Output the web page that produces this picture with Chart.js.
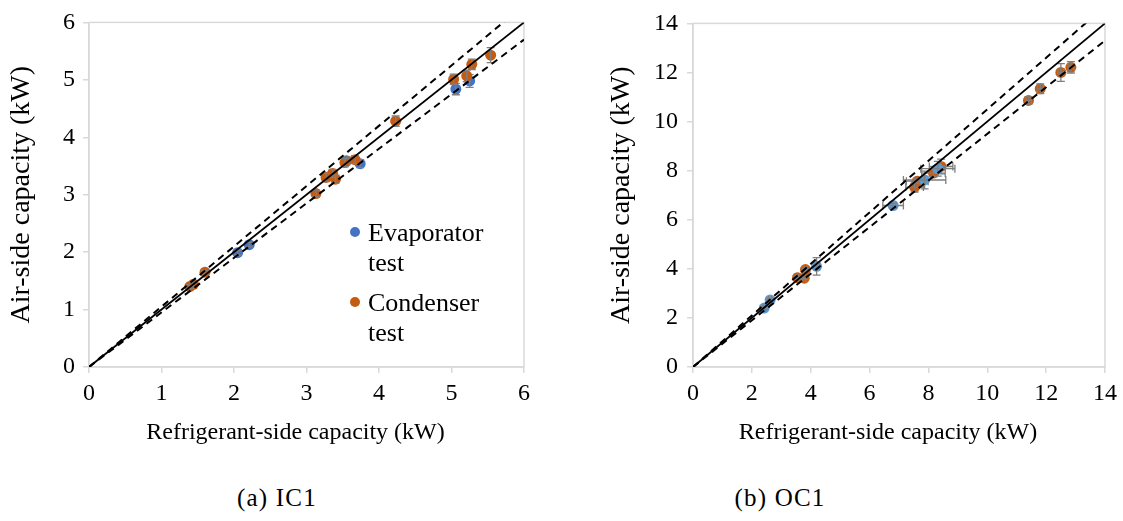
<!DOCTYPE html>
<html>
<head>
<meta charset="utf-8">
<script src="https://cdn.jsdelivr.net/npm/chart.js@4.4.0/dist/chart.umd.min.js"></script>
<style>
body { margin: 0; background: #fff; width: 1123px; height: 521px; position: relative; overflow: hidden; }
canvas { position: absolute; top: 0; }
#ic1 { left: 0; }
#oc1 { left: 600px; }
.cap { position: absolute; top: 484px; width: 200px; text-align: center; font-size: 25px; letter-spacing: 1.2px; color: #000; font-family: 'Liberation Serif'; }
</style>
</head>
<body>
<canvas id="ic1" width="560" height="460"></canvas>
<canvas id="oc1" width="523" height="460"></canvas>
<div class="cap" style="left:177px">(a) IC1</div>
<div class="cap" style="left:680px">(b) OC1</div>
<script>
// IC1 - refrigerant side vs air side capacity, kW
const ic1EvapX = [2.05, 2.21, 3.55, 3.74, 5.06, 5.25];
const ic1EvapY = [1.99, 2.13, 3.59, 3.54, 4.84, 4.98];
const ic1EvapErrY = [0.04, 0.04, 0.07, 0.07, 0.10, 0.11];
const ic1CondX = [1.39, 1.44, 1.60, 3.13, 3.27, 3.36, 3.40, 3.53, 3.67, 4.23, 5.03, 5.21, 5.28, 5.54];
const ic1CondY = [1.40, 1.44, 1.65, 3.02, 3.30, 3.37, 3.27, 3.56, 3.61, 4.28, 5.01, 5.07, 5.27, 5.43];
const ic1CondErrY = [0.03, 0.03, 0.03, 0.06, 0.07, 0.07, 0.07, 0.07, 0.07, 0.09, 0.09, 0.10, 0.09, 0.13];

// OC1
const oc1EvapX = [2.42, 2.62, 4.20, 6.80, 7.87, 8.32];
const oc1EvapY = [2.40, 2.73, 4.10, 6.58, 7.62, 8.08];
const oc1EvapErrX = [0.05, 0.05, 0.10, 0.35, 0.72, 0.58];
const oc1EvapErrY = [0.05, 0.05, 0.36, 0.10, 0.36, 0.30];
const oc1CondX = [3.55, 3.78, 3.82, 7.53, 7.62, 8.17, 8.43, 11.40, 11.80, 12.50, 12.84];
const oc1CondY = [3.64, 3.62, 3.97, 7.33, 7.57, 7.90, 8.17, 10.86, 11.34, 12.00, 12.21];
const oc1CondErrX = [0.05, 0.05, 0.05, 0.30, 0.37, 0.40, 0.40, 0.10, 0.10, 0.10, 0.10];
const oc1CondErrY = [0.05, 0.05, 0.05, 0.20, 0.10, 0.15, 0.30, 0.15, 0.20, 0.36, 0.23];

// +-5 % band around the 1:1 line
const bandRatios = [1, 1.05, 0.95];

const xTitle = 'Refrigerant-side capacity (kW)';
const yTitle = 'Air-side capacity (kW)';

const serif = "'Liberation Serif'";

function pts(xs, ys) {
    return xs.map((x, i) => ({ x: x, y: ys[i] }));
}

const errorBars = {
    id: 'errorBars',
    afterDatasetDraw(chart, args) {
        const ds = chart.data.datasets[args.index];
        if (!ds.errX && !ds.errY) return;
        const c = chart.ctx, sx = chart.scales.x, sy = chart.scales.y;
        c.save();
        c.strokeStyle = '#7f7f7f';
        c.lineWidth = 1.3;
        ds.data.forEach((p, i) => {
            const px = sx.getPixelForValue(p.x), py = sy.getPixelForValue(p.y);
            c.beginPath();
            const ex = ds.errX ? ds.errX[i] : 0;
            const ey = ds.errY ? ds.errY[i] : 0;
            if (ex) {
                const a = sx.getPixelForValue(p.x - ex), b = sx.getPixelForValue(p.x + ex);
                c.moveTo(a, py); c.lineTo(b, py);
                c.moveTo(a, py - 4); c.lineTo(a, py + 4);
                c.moveTo(b, py - 4); c.lineTo(b, py + 4);
            }
            if (ey) {
                const a = sy.getPixelForValue(p.y - ey), b = sy.getPixelForValue(p.y + ey);
                c.moveTo(px, a); c.lineTo(px, b);
                c.moveTo(px - 4, a); c.lineTo(px + 4, a);
                c.moveTo(px - 4, b); c.lineTo(px + 4, b);
            }
            c.stroke();
        });
        c.restore();
    }
};

const frame = {
    id: 'frame',
    beforeDatasetsDraw(chart) {
        const a = chart.chartArea, c = chart.ctx;
        c.save();
        c.strokeStyle = '#d9d9d9';
        c.lineWidth = 1.5;
        c.strokeRect(a.left, a.top, a.right - a.left, a.bottom - a.top);
        c.restore();
    }
};

// x title sits a little left of the plot centre in the original
const bottomTitle = {
    id: 'bottomTitle',
    afterDraw(chart, args, o) {
        const a = chart.chartArea, c = chart.ctx;
        c.save();
        c.font = o.size + 'px ' + serif;
        c.fillStyle = '#000';
        c.textAlign = 'center';
        c.textBaseline = 'middle';
        c.fillText(o.text, (a.left + a.right) / 2 + o.dx, o.y);
        c.restore();
    }
};

const sideLegend = {
    id: 'sideLegend',
    afterDraw(chart, args, o) {
        if (!o.show) return;
        const c = chart.ctx;
        c.save();
        c.font = o.size + 'px ' + serif;
        c.textBaseline = 'alphabetic';
        chart.data.datasets.filter(ds => ds.legendRow !== undefined).forEach(ds => {
            const y = o.y + ds.legendRow * o.rowGap;
            c.fillStyle = ds.backgroundColor;
            c.beginPath();
            c.arc(o.x, y, 5, 0, Math.PI * 2);
            c.fill();
            c.fillStyle = '#000';
            ds.label.split(' ').forEach((w, j) => c.fillText(w, o.x + 13, y + 9 + j * o.lineGap));
        });
        c.restore();
    }
};

function refLine(max, k) {
    return {
        type: 'scatter',
        showLine: true,
        data: [{ x: 0, y: 0 }, { x: max, y: max * k }],
        borderColor: '#000',
        borderWidth: k === 1 ? 1.8 : 2,
        borderDash: k === 1 ? [] : [7, 5],
        pointRadius: 0,
        order: 0
    };
}

function plotCapacity(id, d) {
    const tickFont = { family: serif, size: 24 };
    new Chart(document.getElementById(id).getContext('2d'), {
        type: 'scatter',
        data: {
            datasets: bandRatios.map(k => refLine(d.max, k)).concat([
                {
                    label: 'Evaporator test',
                    data: pts(d.evapX, d.evapY),
                    errX: d.evapErrX, errY: d.evapErrY,
                    backgroundColor: d.blue,
                    pointRadius: 5.5, pointBorderWidth: 0,
                    order: d.evapOnTop ? 1 : 2,
                    legendRow: 0
                },
                {
                    label: 'Condenser test',
                    data: pts(d.condX, d.condY),
                    errX: d.condErrX, errY: d.condErrY,
                    backgroundColor: '#c55a11',
                    pointRadius: 5.5, pointBorderWidth: 0,
                    order: d.evapOnTop ? 2 : 1,
                    legendRow: 1
                }
            ])
        },
        options: {
            responsive: false,
            animation: false,
            layout: { padding: { top: 15, right: d.padRight, left: 0, bottom: 0 } },
            scales: {
                x: {
                    min: 0, max: d.max,
                    ticks: { stepSize: d.step, color: '#000', font: tickFont, padding: 6, maxRotation: 0 },
                    grid: { drawOnChartArea: false, tickLength: 6, color: '#d9d9d9', lineWidth: 1.5 },
                    border: { color: '#d9d9d9', width: 1.5 },
                    afterFit(s) { s.height = 93; }
                },
                y: {
                    min: 0, max: d.max,
                    ticks: { stepSize: d.step, color: '#000', font: tickFont, padding: d.yPad },
                    grid: { drawOnChartArea: false, tickLength: 6, color: '#d9d9d9', lineWidth: 1.5 },
                    border: { color: '#d9d9d9', width: 1.5 },
                    title: { display: true, text: yTitle, color: '#000', font: { family: serif, size: 28 }, padding: { top: 5, bottom: 0 } },
                    afterFit(s) { s.width = d.yWidth; }
                }
            },
            plugins: {
                legend: { display: false },
                tooltip: { enabled: false },
                bottomTitle: { text: xTitle, size: 24, dx: -11, y: 433 },
                sideLegend: { show: d.legend, x: 355, y: 232, rowGap: 70, lineGap: 30, size: 26 }
            }
        },
        plugins: [frame, errorBars, bottomTitle, sideLegend]
    });
}

function drawAll() {
    plotCapacity('ic1', {
        max: 6, step: 1, padRight: 36, yWidth: 89, yPad: 8, legend: true, blue: '#4472c4', evapOnTop: false,
        evapX: ic1EvapX, evapY: ic1EvapY, evapErrX: null, evapErrY: ic1EvapErrY,
        condX: ic1CondX, condY: ic1CondY, condErrX: null, condErrY: ic1CondErrY
    });
    plotCapacity('oc1', {
        max: 14, step: 2, padRight: 17, yWidth: 93, yPad: 9, legend: false, blue: '#5b9bd5', evapOnTop: true,
        evapX: oc1EvapX, evapY: oc1EvapY, evapErrX: oc1EvapErrX, evapErrY: oc1EvapErrY,
        condX: oc1CondX, condY: oc1CondY, condErrX: oc1CondErrX, condErrY: oc1CondErrY
    });
}

document.fonts.load("24px 'Liberation Serif'").then(drawAll, drawAll);
</script>
</body>
</html>
